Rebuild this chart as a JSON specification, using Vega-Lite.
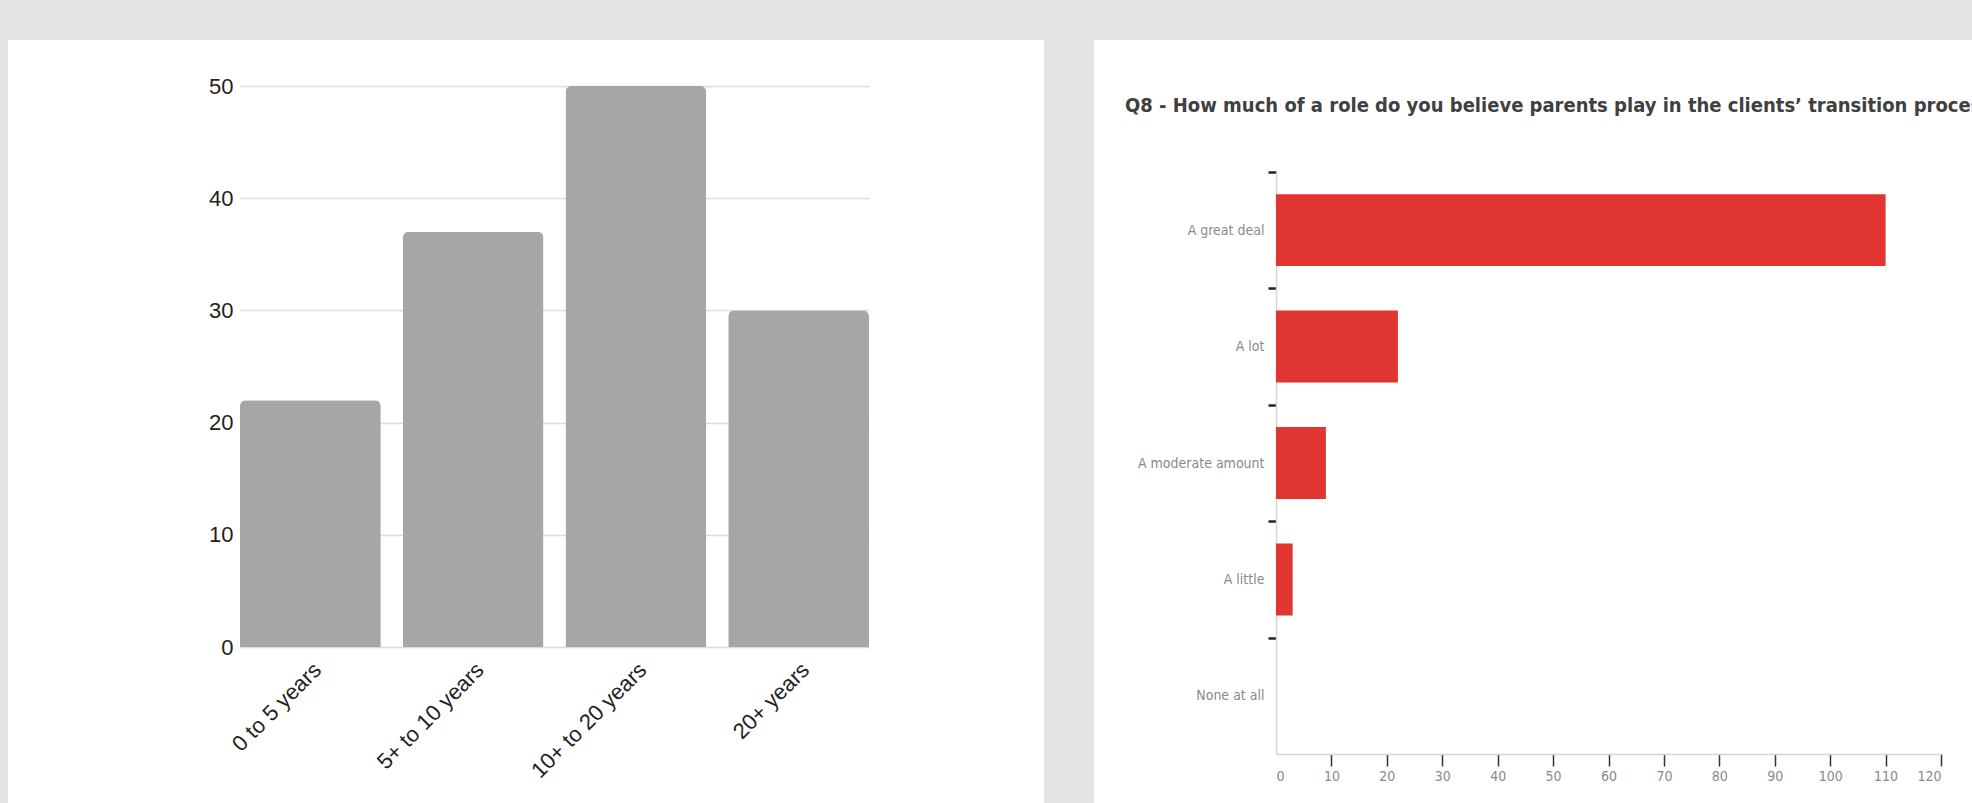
{
  "$schema": "https://vega.github.io/schema/vega-lite/v6.json",
  "background": "white",
  "padding": 0,
  "columns": 7,
  "spacing": 0,
  "bounds": "flush",
  "align": "each",
  "config": {"view": {"stroke": null}, "font": "Liberation Sans"},
  "datasets": {
    "empty": [],
    "tenure": [
      {"years": "0 to 5 years", "count": 22},
      {"years": "5+ to 10 years", "count": 37},
      {"years": "10+ to 20 years", "count": 50},
      {"years": "20+ years", "count": 30}
    ],
    "role": [
      {"answer": "A great deal", "count": 110},
      {"answer": "A lot", "count": 22},
      {"answer": "A moderate amount", "count": 9},
      {"answer": "A little", "count": 3},
      {"answer": "None at all", "count": 0}
    ]
  },
  "concat": [
    {"width": 8, "height": 40, "data": {"name": "empty"}, "mark": "rect", "encoding": {}, "view": {"fill": "#e3e3e3", "stroke": null}},
    {"width": 232, "height": 40, "data": {"name": "empty"}, "mark": "rect", "encoding": {}, "view": {"fill": "#e3e3e3", "stroke": null}},
    {"width": 629, "height": 40, "data": {"name": "empty"}, "mark": "rect", "encoding": {}, "view": {"fill": "#e3e3e3", "stroke": null}},
    {"width": 175, "height": 40, "data": {"name": "empty"}, "mark": "rect", "encoding": {}, "view": {"fill": "#e3e3e3", "stroke": null}},
    {"width": 50, "height": 40, "data": {"name": "empty"}, "mark": "rect", "encoding": {}, "view": {"fill": "#e3e3e3", "stroke": null}},
    {"width": 182, "height": 40, "data": {"name": "empty"}, "mark": "rect", "encoding": {}, "view": {"fill": "#e3e3e3", "stroke": null}},
    {"width": 696, "height": 40, "data": {"name": "empty"}, "mark": "rect", "encoding": {}, "view": {"fill": "#e3e3e3", "stroke": null}},

    {"width": 8, "height": 46, "data": {"name": "empty"}, "mark": "rect", "encoding": {}, "view": {"fill": "#e3e3e3", "stroke": null}},
    {"width": 232, "height": 46, "data": {"name": "empty"}, "mark": "rect", "encoding": {}, "view": {"fill": null, "stroke": null}},
    {"width": 629, "height": 46, "data": {"name": "empty"}, "mark": "rect", "encoding": {}, "view": {"fill": null, "stroke": null}},
    {"width": 175, "height": 46, "data": {"name": "empty"}, "mark": "rect", "encoding": {}, "view": {"fill": null, "stroke": null}},
    {"width": 50, "height": 46, "data": {"name": "empty"}, "mark": "rect", "encoding": {}, "view": {"fill": "#e3e3e3", "stroke": null}},
    {"width": 182, "height": 46, "data": {"name": "empty"}, "mark": "rect", "encoding": {}, "view": {"fill": null, "stroke": null}},
    {"width": 696, "height": 46, "data": {"name": "empty"}, "mark": "rect", "encoding": {}, "view": {"fill": null, "stroke": null}},

    {"width": 8, "height": 717, "data": {"name": "empty"}, "mark": "rect", "encoding": {}, "view": {"fill": "#e3e3e3", "stroke": null}},
    {"width": 232, "height": 1, "data": {"name": "empty"}, "mark": "rect", "encoding": {}, "view": {"fill": null, "stroke": null}},
    {
      "width": 629,
      "height": 561,
      "data": {"name": "tenure"},
      "mark": {"type": "bar", "color": "#a6a6a6", "cornerRadiusTopLeft": 6, "cornerRadiusTopRight": 6},
      "encoding": {
        "x": {
          "field": "years", "type": "nominal", "sort": null,
          "scale": {"paddingInner": 0.135, "paddingOuter": 0},
          "axis": {"title": null, "labelAngle": -45, "labelFont": "Liberation Sans", "labelFontSize": 22, "labelColor": "#222222", "ticks": false, "domain": false, "labelPadding": 12}
        },
        "y": {
          "field": "count", "type": "quantitative",
          "scale": {"domain": [0, 50], "nice": false},
          "axis": {"title": null, "values": [0, 10, 20, 30, 40, 50], "grid": true, "gridColor": "#dcdcdc", "gridWidth": 1.5, "domain": false, "ticks": false, "labelPadding": 7, "labelFont": "Liberation Sans", "labelFontSize": 22, "labelColor": "#222222"}
        }
      }
    },
    {"width": 175, "height": 1, "data": {"name": "empty"}, "mark": "rect", "encoding": {}, "view": {"fill": null, "stroke": null}},
    {"width": 50, "height": 717, "data": {"name": "empty"}, "mark": "rect", "encoding": {}, "view": {"fill": "#e3e3e3", "stroke": null}},
    {"width": 182, "height": 1, "data": {"name": "empty"}, "mark": "rect", "encoding": {}, "view": {"fill": null, "stroke": null}},
    {
      "width": 665,
      "height": 668,
      "data": {"name": "role"},
      "title": {
        "text": "Q8 - How much of a role do you believe parents play in the clients’ transition process?",
        "anchor": "start", "frame": "group", "font": "DejaVu Sans Condensed, Liberation Sans Narrow, Roboto Condensed, Roboto", "fontSize": 20, "fontWeight": "bold",
        "color": "#404040", "baseline": "alphabetic", "offset": 0, "dx": -151, "dy": 46
      },
      "mark": {"type": "bar", "color": "#e03531"},
      "encoding": {
        "y": {
          "field": "answer", "type": "nominal", "sort": null,
          "scale": {"range": [86, 668], "paddingInner": 0.383, "paddingOuter": 0.19},
          "axis": {"title": null, "domainColor": "#d4d4d4", "domainWidth": 1.5, "tickColor": "#222222", "tickSize": 8, "tickWidth": 2.5, "tickOffset": -58.2, "labelOffset": 58.2, "labelFont": "DejaVu Sans Condensed, Liberation Sans Narrow, Roboto Condensed, Roboto", "labelFontSize": 14, "labelColor": "#8a8a8a", "labelPadding": 4}
        },
        "x": {
          "field": "count", "type": "quantitative",
          "scale": {"domain": [0, 120], "nice": false},
          "axis": {"title": null, "values": [0, 10, 20, 30, 40, 50, 60, 70, 80, 90, 100, 110, 120], "grid": false, "domainColor": "#d4d4d4", "domainWidth": 1.5, "tickColor": "#333333", "tickSize": 12, "tickWidth": 1.5, "tickOpacity": {"condition": {"test": "datum.value === 0", "value": 0}, "value": 1}, "labelFont": "DejaVu Sans Condensed, Liberation Sans Narrow, Roboto Condensed, Roboto", "labelFontSize": 14, "labelColor": "#8a8a8a", "labelPadding": 3}
        }
      }
    }
  ]
}
